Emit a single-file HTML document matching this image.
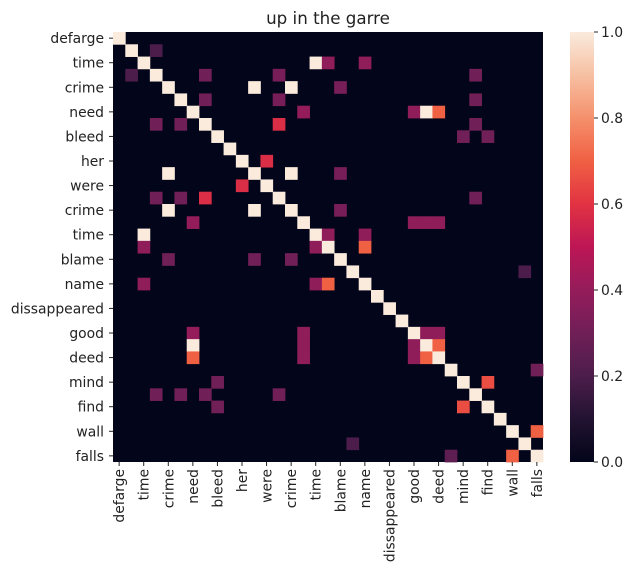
<!DOCTYPE html>
<html><head><meta charset="utf-8"><style>
body{margin:0;background:#fff;font-family:"Liberation Sans","DejaVu Sans",sans-serif;}
svg text{font-family:"DejaVu Sans","Liberation Sans",sans-serif;fill:#222;}
</style></head><body>
<svg id="chart" width="634" height="576" xmlns="http://www.w3.org/2000/svg">
<text x="328" y="24" text-anchor="middle" font-size="16.7">up in the garre</text>
<g id="cells"></g>
<g id="ylab"></g>
<g id="xlab"></g>
<defs><linearGradient id="cbg" x1="0" y1="1" x2="0" y2="0">
<stop offset="0" stop-color="#03051a"/><stop offset="0.1" stop-color="#221331"/><stop offset="0.2" stop-color="#4c1d4b"/><stop offset="0.3" stop-color="#701f57"/><stop offset="0.4" stop-color="#951c5b"/><stop offset="0.5" stop-color="#bd1655"/><stop offset="0.6" stop-color="#e13342"/><stop offset="0.7" stop-color="#f06043"/><stop offset="0.8" stop-color="#f5906c"/><stop offset="0.9" stop-color="#f6c0a2"/><stop offset="1" stop-color="#faebdd"/>
</linearGradient></defs>
<rect x="570" y="32" width="24" height="430" fill="url(#cbg)"/>
<g id="cbticks"></g>
</svg>
<script>
const words = ["defarge","the","time","of","crime","and","need","to","bleed","for","her","crime","were","a","crime","so","time","will","blame","us","name","is","dissappeared","in","good","and","deed","our","mind","we","find","on","wall","it","falls"];
const diagValue = 1;
const offRows = [1,2,2,2,3,3,3,3,4,4,4,5,5,5,6,6,6,6,7,7,7,7,8,8,10,11,11,11,12,13,13,13,13,14,14,14,15,15,15,15,16,16,16,17,17,17,18,18,18,19,20,20,20,24,24,24,24,25,25,25,25,26,26,26,26,27,28,28,29,29,29,29,30,30,32,33,34,34];
const offCols = [3,16,17,20,1,7,13,29,11,14,18,7,13,29,15,24,25,26,3,5,13,29,28,30,12,4,14,18,10,3,5,7,29,4,11,18,6,24,25,26,2,17,20,2,16,20,4,11,14,33,2,16,17,6,15,25,26,6,15,24,26,6,15,24,25,34,8,30,3,5,7,13,8,28,34,19,27,32];
const offVals = [0.2,1,0.38,0.38,0.2,0.3,0.32,0.3,1,1,0.32,0.3,0.32,0.3,0.4,0.38,1,0.7,0.3,0.3,0.58,0.3,0.3,0.3,0.58,1,1,0.32,0.58,0.3,0.3,0.58,0.3,1,1,0.32,0.4,0.38,0.38,0.38,1,0.38,0.38,0.38,0.38,0.7,0.3,0.3,0.3,0.2,0.38,0.38,0.7,0.4,0.38,0.38,0.38,1,0.38,0.38,0.7,0.7,0.38,0.38,0.7,0.3,0.3,0.66,0.3,0.3,0.3,0.3,0.3,0.66,0.7,0.2,0.25,0.7];
const cbTicks = [0,0.2,0.4,0.6,0.8,1.0];

const N = words.length, X0=113, Y0=32, S=430;
const cs = S/N;
const xPos = i => X0 + i*cs, yPos = i => Y0 + i*cs;
const stops=[[3,5,26],[34,19,49],[76,29,75],[112,31,87],[149,28,91],[189,22,85],[225,51,66],[240,96,67],[245,144,108],[246,192,162],[250,235,221]];
function color(v){v=Math.max(0,Math.min(1,v));const p=v*10,i=Math.min(9,Math.floor(p)),t=p-i;const a=stops[i],b=stops[i+1];return `rgb(${a.map((c,k)=>Math.round(c+(b[k]-c)*t)).join(',')})`;}
const ns="http://www.w3.org/2000/svg";
const M=[];for(let r=0;r<N;r++){M.push(new Array(N).fill(0));M[r][r]=diagValue;}
offRows.forEach((r,k)=>{M[r][offCols[k]]=offVals[k];});
const cells=document.getElementById('cells');
const bg=document.createElementNS(ns,'rect');
bg.setAttribute('x',X0);bg.setAttribute('y',Y0);bg.setAttribute('width',S);bg.setAttribute('height',S);bg.setAttribute('fill',color(0));


cells.appendChild(bg);
for(let r=0;r<N;r++)for(let c=0;c<N;c++){if(M[r][c]===0)continue;
 const e=document.createElementNS(ns,'rect');
 e.setAttribute('x',xPos(c));e.setAttribute('y',yPos(r));e.setAttribute('width',cs+0.4);e.setAttribute('height',cs+0.4);e.setAttribute('fill',color(M[r][c]));
 
 
 cells.appendChild(e);}
const yl=document.getElementById('ylab'),xl=document.getElementById('xlab');
for(let i=0;i<N;i+=2){
 const cy=yPos(i)+cs/2,cx=xPos(i)+cs/2;
 const t=document.createElementNS(ns,'line');t.setAttribute('x1',X0-4);t.setAttribute('x2',X0);t.setAttribute('y1',cy);t.setAttribute('y2',cy);t.setAttribute('stroke','#222');
 
 
 yl.appendChild(t);
 const l=document.createElementNS(ns,'text');l.setAttribute('x',X0-9);l.setAttribute('y',cy+5);l.setAttribute('text-anchor','end');l.setAttribute('font-size','13.9');l.textContent=words[i];
 
 
 yl.appendChild(l);
 const tx=document.createElementNS(ns,'line');tx.setAttribute('x1',cx);tx.setAttribute('x2',cx);tx.setAttribute('y1',Y0+S);tx.setAttribute('y2',Y0+S+4);tx.setAttribute('stroke','#222');
 
 
 xl.appendChild(tx);
 const lx=document.createElementNS(ns,'text');lx.setAttribute('text-anchor','end');lx.setAttribute('font-size','13.9');
 lx.setAttribute('transform',`translate(${cx+5},${Y0+S+7}) rotate(-90)`);lx.textContent=words[i];
 
 
 xl.appendChild(lx);
}
const cb=document.getElementById('cbticks');
cbTicks.forEach(v=>{const y=Y0+S-v*S;
 const t=document.createElementNS(ns,'line');t.setAttribute('x1',594);t.setAttribute('x2',598);t.setAttribute('y1',y);t.setAttribute('y2',y);t.setAttribute('stroke','#222');
 
 
 cb.appendChild(t);
 const l=document.createElementNS(ns,'text');l.setAttribute('x',601);l.setAttribute('y',y+5);l.setAttribute('font-size','13.9');l.textContent=v.toFixed(1);
 
 
 cb.appendChild(l);});
</script>
</body></html>
